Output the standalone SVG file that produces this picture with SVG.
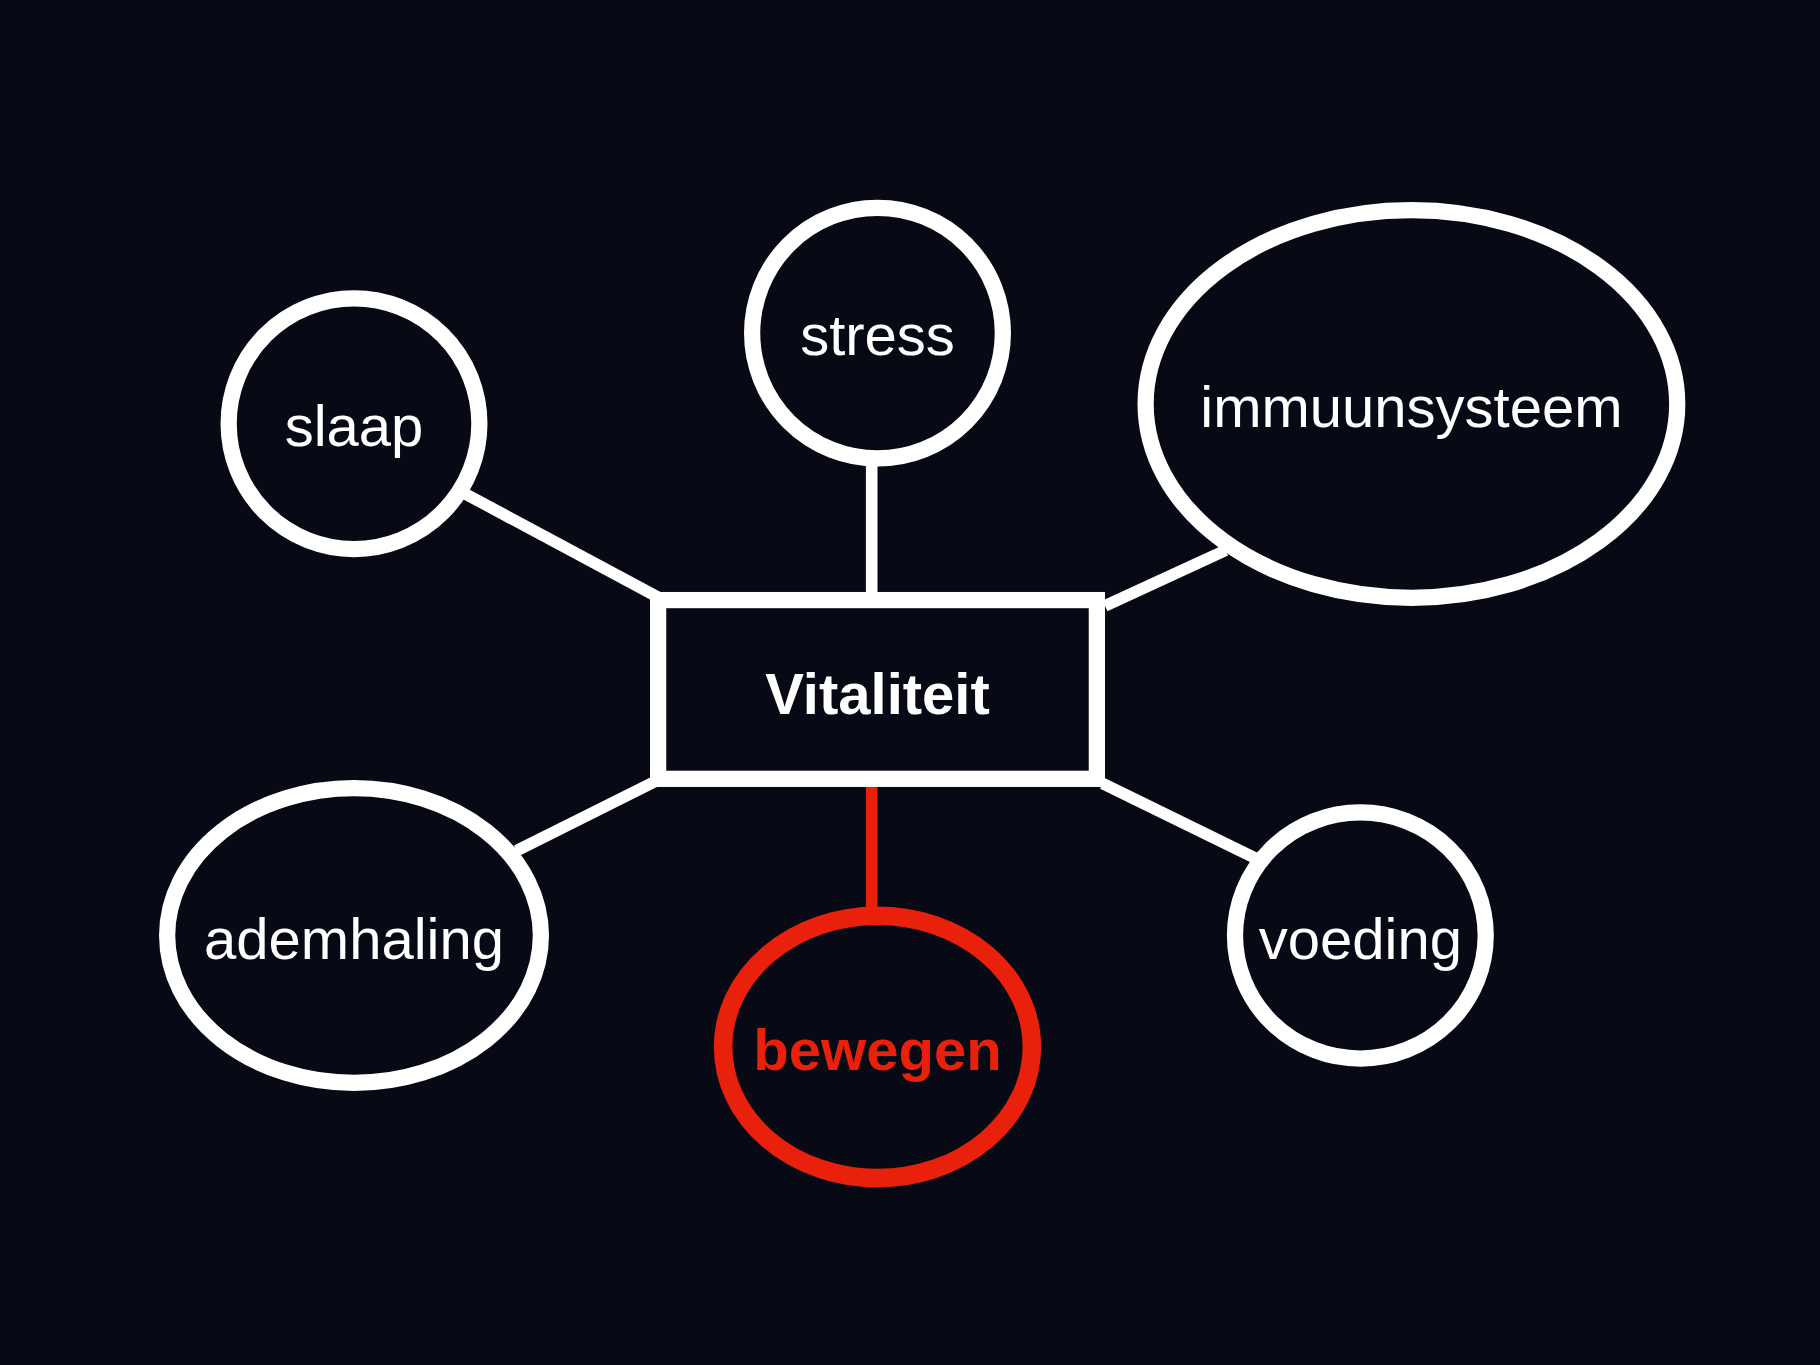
<svg xmlns="http://www.w3.org/2000/svg" width="1820" height="1365" viewBox="0 0 1820 1365">
<style>
.n{fill:none;stroke:#fff;stroke-width:14}
.t{font-family:"Liberation Sans",Arial,sans-serif;font-size:50px;fill:#fff;text-anchor:middle}
.c{stroke:#fff;stroke-width:10}
</style>
<rect width="1820" height="1365" fill="#070a14"/>
<g transform="scale(1.16071)">
<g id="connectors">
<line class="c" x1="400" y1="425" x2="568" y2="515"/>
<line class="c" x1="751" y1="398" x2="751" y2="515"/>
<line class="c" x1="1056" y1="474" x2="952" y2="522"/>
<line class="c" x1="445" y1="733" x2="565" y2="673"/>
<line class="c" x1="1083" y1="740" x2="950" y2="675"/>
<line x1="751" y1="676" x2="751" y2="784" stroke="#e8200c" stroke-width="10"/>
</g>
<g id="center"><rect class="n" x="567" y="517" width="378" height="154"/><text class="t" x="756" y="615" font-weight="bold">Vitaliteit</text></g>
<g id="slaap"><circle class="n" cx="305" cy="365" r="108"/><text class="t" x="305" y="384">slaap</text></g>
<g id="stress"><circle class="n" cx="756" cy="287" r="108"/><text class="t" x="756" y="306">stress</text></g>
<g id="immuunsysteem"><ellipse class="n" cx="1216" cy="348" rx="229" ry="167"/><text class="t" x="1216" y="368">immuunsysteem</text></g>
<g id="ademhaling"><ellipse class="n" cx="305" cy="806" rx="161" ry="127"/><text class="t" x="305" y="826">ademhaling</text></g>
<g id="voeding"><ellipse class="n" cx="1172" cy="806" rx="108" ry="106"/><text class="t" x="1172" y="826">voeding</text></g>
<g id="bewegen"><ellipse cx="756" cy="902" rx="133" ry="113" fill="none" stroke="#e8200c" stroke-width="16"/><text class="t" x="756" y="922" font-weight="bold" fill="#e8200c" style="fill:#e8200c">bewegen</text></g>
</g>
</svg>
